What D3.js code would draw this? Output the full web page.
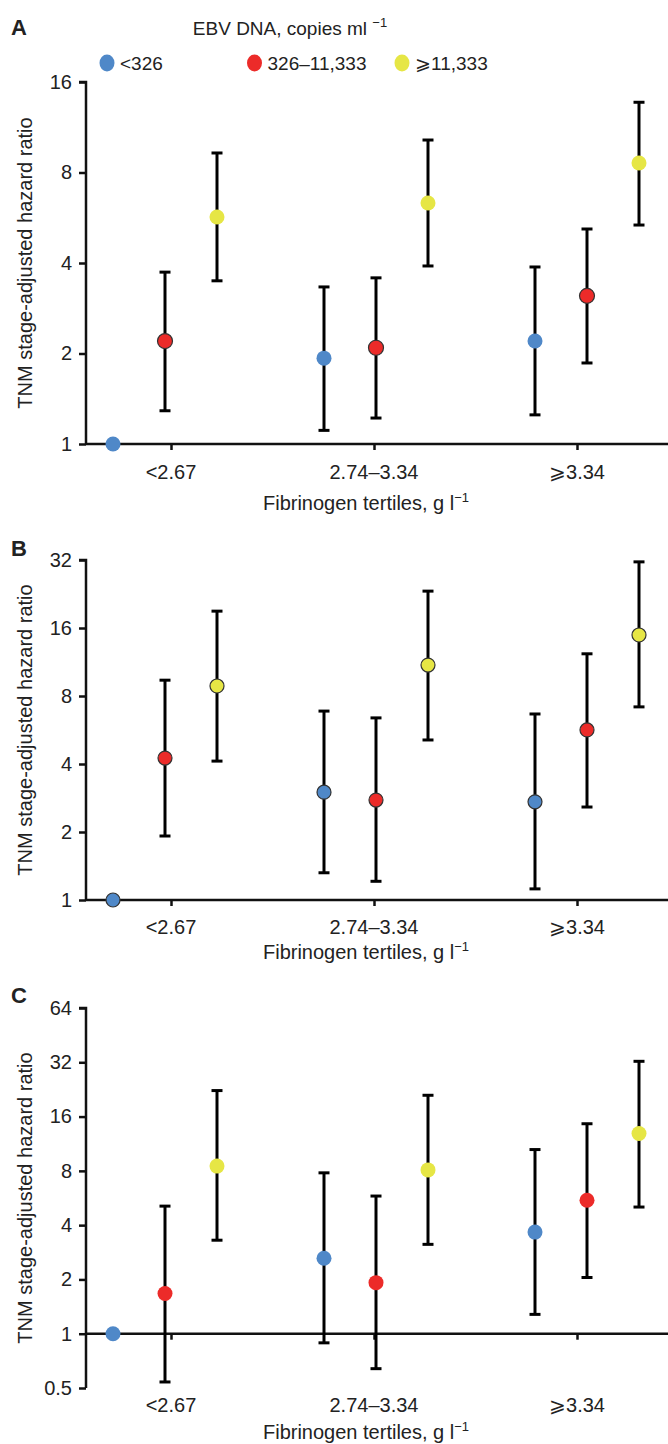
<!DOCTYPE html>
<html>
<head>
<meta charset="utf-8">
<script src="https://cdn.jsdelivr.net/npm/d3@7"></script>
<style>
  body { margin: 0; background: #fff; }
  text { font-family: "Liberation Sans", Arial, sans-serif; fill: #222; }
</style>
</head>
<body>
<div id="chart"></div>
<script>
// categories and series
var categories = ["<2.67", "2.74–3.34", "⩾3.34"];
var series = ["<326", "326–11,333", "⩾11,333"];
var seriesColors = ["#4f88c8", "#ec2b29", "#e6e645"];

// hazard ratios [category][series], with 95% CI (null = reference)
var hrA = [[1, 2.2, 5.69], [1.93, 2.09, 6.33], [2.2, 3.11, 8.6]];
var loA = [[null, 1.29, 3.49], [1.11, 1.22, 3.91], [1.25, 1.86, 5.35]];
var hiA = [[null, 3.73, 9.29], [3.33, 3.57, 10.26], [3.88, 5.19, 13.7]];

var hrB = [[1, 4.25, 8.86], [3.0, 2.77, 10.97], [2.72, 5.66, 14.9]];
var loB = [[null, 1.92, 4.12], [1.32, 1.21, 5.11], [1.12, 2.58, 7.16]];
var hiB = [[null, 9.4, 19.0], [6.86, 6.4, 23.3], [6.66, 12.3, 31.4]];

var hrC = [[1, 1.67, 8.5], [2.62, 1.92, 8.1], [3.66, 5.5, 12.9]];
var loC = [[null, 0.54, 3.3], [0.89, 0.64, 3.13], [1.28, 2.05, 5.04]];
var hiC = [[null, 5.1, 22.3], [7.8, 5.8, 21], [10.5, 14.6, 32.4]];

var ticksA = [1, 2, 4, 8, 16];
var ticksB = [1, 2, 4, 8, 16, 32];
var ticksC = [0.5, 1, 2, 4, 8, 16, 32, 64];

var svgWidth = 668;
var svgHeight = 1444;
var axisX = 86;
var fontSize = "20px";

var svg = d3
  .select("#chart")
  .append("svg")
  .attr("width", svgWidth)
  .attr("height", svgHeight);

// x positions of the groups and of the series inside a group
var xGroup = d3.scalePoint().domain(categories).range([165, 587]);
var xSeries = d3.scalePoint().domain(series).range([-52, 52]);
var xTicks = d3.scalePoint().domain(categories).range([171, 577]);

// panels
var panels = [
  { letter: "A", hr: hrA, lo: loA, hi: hiA, ticks: ticksA, top: 82, bottom: 444,
    letterY: 27, catY: 479, titleY: 510, r: 7.5, outline: [false, true, false] },
  { letter: "B", hr: hrB, lo: loB, hi: hiB, ticks: ticksB, top: 560, bottom: 900,
    letterY: 548, catY: 934, titleY: 959, r: 7, outline: [true, true, true] },
  { letter: "C", hr: hrC, lo: loC, hi: hiC, ticks: ticksC, top: 1008, bottom: 1388,
    letterY: 995, catY: 1412, titleY: 1439, r: 7.5, outline: [false, false, false] }
];

panels.forEach(function (p) {
  var y = d3
    .scaleLog()
    .base(2)
    .domain([d3.min(p.ticks), d3.max(p.ticks)])
    .range([p.bottom, p.top]);

  var g = svg.append("g");

  // y axis
  var yAxis = d3
    .axisLeft(y)
    .tickValues(p.ticks)
    .tickFormat((d) => d)
    .tickSize(7)
    .tickPadding(7);
  var ya = g.append("g").attr("transform", `translate(${axisX},0)`).call(yAxis);
  ya.select(".domain").attr("stroke", "#111").attr("stroke-width", 2.5)
    .attr("d", `M-7,${p.top}H0V${p.bottom}`);
  ya.selectAll(".tick line").attr("stroke", "#111").attr("stroke-width", 2.5);
  ya.selectAll(".tick text").attr("font-size", fontSize)
    .attr("font-family", "Liberation Sans, Arial, sans-serif").attr("fill", "#222");

  // x axis at HR = 1
  var xAxis = d3.axisBottom(xTicks).tickSize(6).tickFormat("");
  var xa = g.append("g").attr("transform", `translate(0,${y(1)})`).call(xAxis);
  xa.select(".domain").attr("stroke", "#111").attr("stroke-width", 2.5)
    .attr("d", `M${axisX},0H${svgWidth}`);
  xa.selectAll(".tick line").attr("stroke", "#111").attr("stroke-width", 2.5);

  // category labels
  g.selectAll("text.cat")
    .data(categories)
    .enter()
    .append("text")
    .attr("class", "cat")
    .attr("x", (d) => xTicks(d))
    .attr("y", p.catY)
    .attr("text-anchor", "middle")
    .attr("font-size", fontSize)
    .text((d) => d);

  // x title
  var xt = g.append("text")
    .attr("x", 366)
    .attr("y", p.titleY)
    .attr("text-anchor", "middle")
    .attr("font-size", fontSize);
  xt.append("tspan").text("Fibrinogen tertiles, g l");
  xt.append("tspan").attr("font-size", "13px").attr("dy", "-8").text("−1");

  // y title
  g.append("text")
    .attr("transform", "rotate(-90)")
    .attr("x", -(p.top + p.bottom) / 2)
    .attr("y", 32)
    .attr("text-anchor", "middle")
    .attr("font-size", fontSize)
    .text("TNM stage-adjusted hazard ratio");

  // panel letter
  g.append("text")
    .attr("x", 11)
    .attr("y", p.letterY + 8)
    .attr("font-size", "22px")
    .attr("font-weight", "bold")
    .attr("fill", "#111")
    .text(p.letter);

  // flatten points
  var pts = [];
  categories.forEach(function (c, i) {
    series.forEach(function (s, j) {
      pts.push({ cat: c, ser: s, j: j, hr: p.hr[i][j], lo: p.lo[i][j], hi: p.hi[i][j] });
    });
  });
  var withCI = pts.filter((d) => d.lo !== null);

  // error bars
  g.selectAll("line.bar")
    .data(withCI)
    .enter()
    .append("line")
    .attr("x1", (d) => xGroup(d.cat) + xSeries(d.ser))
    .attr("x2", (d) => xGroup(d.cat) + xSeries(d.ser))
    .attr("y1", (d) => y(d.lo))
    .attr("y2", (d) => y(d.hi))
    .attr("stroke", "#000")
    .attr("stroke-width", 3);

  ["lo", "hi"].forEach(function (k) {
    g.selectAll("line.cap" + k)
      .data(withCI)
      .enter()
      .append("line")
      .attr("x1", (d) => xGroup(d.cat) + xSeries(d.ser) - 5.5)
      .attr("x2", (d) => xGroup(d.cat) + xSeries(d.ser) + 5.5)
      .attr("y1", (d) => y(d[k]))
      .attr("y2", (d) => y(d[k]))
      .attr("stroke", "#000")
      .attr("stroke-width", 3);
  });

  // markers
  g.selectAll("circle.pt")
    .data(pts)
    .enter()
    .append("circle")
    .attr("cx", (d) => xGroup(d.cat) + xSeries(d.ser))
    .attr("cy", (d) => y(d.hr))
    .attr("r", p.r)
    .attr("fill", (d) => seriesColors[d.j])
    .attr("stroke", (d) => (p.outline[d.j] ? "#333" : "none"))
    .attr("stroke-width", 1.2);
});

// legend
var legend = svg.append("g");
var lt = legend.append("text")
  .attr("x", 290)
  .attr("y", 35)
  .attr("text-anchor", "middle")
  .attr("font-size", "19px");
lt.append("tspan").text("EBV DNA, copies ml ");
lt.append("tspan").attr("font-size", "13px").attr("dy", "-8").text("−1");

var legendX = d3.scalePoint().domain(series).range([107, 402]);
legend.selectAll("ellipse")
  .data(series)
  .enter()
  .append("ellipse")
  .attr("cx", (d) => legendX(d))
  .attr("cy", 63)
  .attr("rx", 7.5)
  .attr("ry", 8.5)
  .attr("fill", (d, i) => seriesColors[i]);
legend.selectAll("text.leg")
  .data(series)
  .enter()
  .append("text")
  .attr("class", "leg")
  .attr("x", (d) => legendX(d) + 13)
  .attr("y", 70)
  .attr("font-size", "19px")
  .text((d) => d);
</script>
</body>
</html>
